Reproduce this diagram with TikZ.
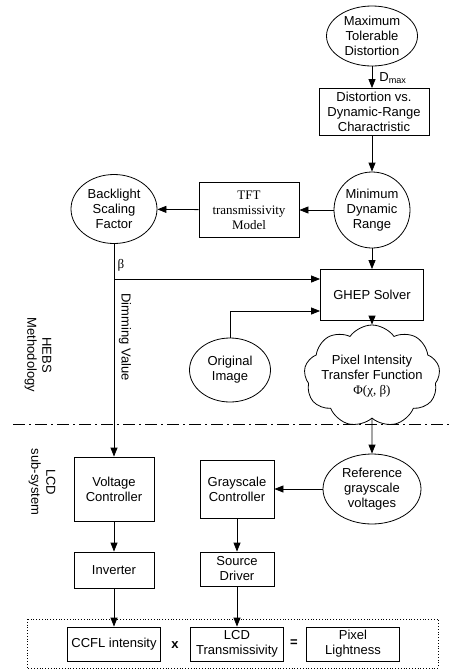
\documentclass[tikz,border=0pt]{standalone}
\usepackage{fontspec}
\setmainfont{Liberation Sans}
\newfontfamily\tmsfont{Liberation Serif}
\usepackage{amsmath}
\usetikzlibrary{
    positioning,
    shapes.geometric,
    shapes.symbols,
    arrows.meta,
    calc
}

\tikzset{
  blk/.style={draw, rectangle, align=center, inner sep=0pt},
  oval/.style={draw, ellipse, align=center, inner sep=0pt},
  puff/.style={draw, cloud, cloud puffs=9, cloud puff arc=110, cloud ignores aspect, inner sep=0pt},
  arr/.style={-{Triangle[length=9pt,width=7pt]}, line width=0.8pt},
  lbl/.style={inner sep=1pt}
}

\begin{document}
\begin{tikzpicture}[x=1pt, y=1pt, line width=0.8pt,
  every node/.style={font=\fontsize{13}{15}\selectfont}]
\useasboundingbox (0,0) rectangle (450,-672);

% HEBS part
\node[oval, minimum width=91pt, minimum height=60pt] (maxd) at (372,-36) {Maximum\\Tolerable\\Distortion};
\node[blk, minimum width=110pt, minimum height=47pt] (dvsr) at (374,-112) {Distortion vs.\\Dynamic-Range\\Charactristic};
\node[draw, circle, align=center, inner sep=0pt, minimum size=76pt] (mindr) at (372,-210) {Minimum\\Dynamic\\Range};
\node[blk, minimum width=100pt, minimum height=55pt, font=\tmsfont\fontsize{13}{15}\selectfont] (tft) at (249,-210) {TFT\\transmissivity\\Model};
\node[oval, minimum width=86pt, minimum height=69pt] (bsf) at (114,-209) {Backlight\\Scaling\\Factor};
\node[blk, minimum width=103pt, minimum height=51pt] (ghep) at (372,-295) {GHEP Solver};
\node[oval, minimum width=81pt, minimum height=64pt] (orig) at (230,-370) {Original\\Image};
\node[puff, minimum width=136pt, minimum height=102pt] (ptf) at (372,-376) {};
\node[align=center] (ptftxt) at (ptf) {Pixel Intensity\\Transfer Function\\{\tmsfont Φ(χ, β)}};

\node[lbl, anchor=west] (dmax) at (378,-78) {D\textsubscript{max}};
\node[lbl, font=\tmsfont\fontsize{13}{15}\selectfont] (beta) at (121,-265) {β};
\node[lbl, rotate=-90] (dimv) at (125,-337) {Dimming Value};
\node[lbl, rotate=-90, align=center] (hebs) at (38,-355) {HEBS\\Methodology};

% divider
\coordinate (divl) at (13,-424);
\coordinate (divr) at (450,-424);
\draw[dash pattern=on 12pt off 4pt on 2pt off 4pt] (divl) -- (divr);

% LCD part
\node[lbl, rotate=-90, align=center] (lcdsub) at (42,-482) {LCD\\sub-system};
\node[oval, minimum width=98pt, minimum height=70pt] (refv) at (372,-489) {Reference\\grayscale\\voltages};
\node[blk, minimum width=80pt, minimum height=64pt] (vctl) at (114,-489) {Voltage\\Controller};
\node[blk, minimum width=74pt, minimum height=58pt] (gctl) at (237,-489) {Grayscale\\Controller};
\node[blk, minimum width=80pt, minimum height=36pt] (inv) at (114,-570) {Inverter};
\node[blk, minimum width=74pt, minimum height=34pt] (sdrv) at (237,-569) {Source\\Driver};

\node[blk, minimum width=93pt, minimum height=34pt] (ccfl) at (114,-644) {CCFL intensity};
\node[blk, minimum width=93pt, minimum height=34pt] (lcdt) at (237,-644) {LCD\\Transmissivity};
\node[blk, minimum width=93pt, minimum height=34pt] (pxl) at (353,-644) {Pixel\\Lightness};
\node[lbl, font=\bfseries\fontsize{13}{15}\selectfont] (mul) at (175,-645) {x};
\node[lbl, font=\bfseries\fontsize{13}{15}\selectfont] (eq) at (294,-643) {=};
\draw[dotted] (27,-619) rectangle (438,-668);

% connectors
\draw[arr] (maxd) -- (maxd |- dvsr.north);
\draw[arr] (dvsr.south -| mindr) -- (mindr);
\draw[arr] (mindr) -- (tft);
\draw[arr] (tft) -- (bsf);
\draw[arr] (bsf.south) |- ([yshift=16pt]ghep.west);
\draw[arr] (orig.north) |- ([yshift=-16pt]ghep.west);
\draw[arr] (bsf.south) -- (vctl.north);
\draw[arr] (mindr) -- (ghep);
\draw[arr] (ghep) -- (ptf);
\draw[arr] (ptf.south) -- (refv.north);
\draw[arr] (refv) -- (gctl);
\draw[arr] (gctl) -- (sdrv);
\draw[arr] (vctl) -- (inv);
\draw[arr] (inv) -- (ccfl);
\draw[arr] (sdrv) -- (lcdt);
\end{tikzpicture}
\end{document}
